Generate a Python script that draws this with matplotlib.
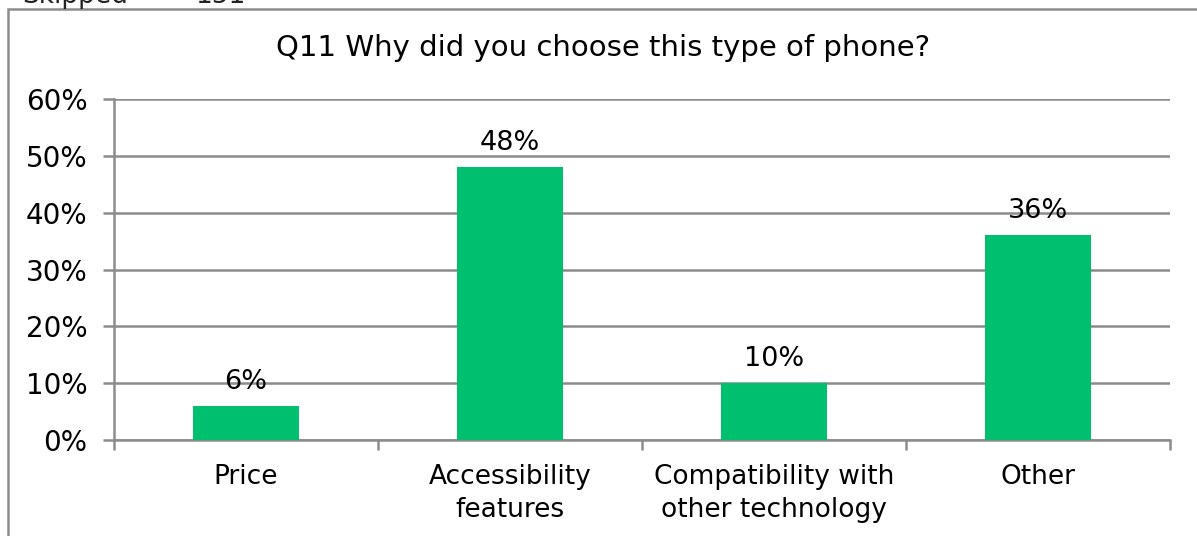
import numpy as np
import matplotlib
matplotlib.use("Agg")
import matplotlib.pyplot as plt
from matplotlib.patches import Rectangle

categories = ["Price", "Accessibility\nfeatures", "Compatibility with\nother technology", "Other"]
values = [6, 48, 10, 36]
yticks = [0, 10, 20, 30, 40, 50, 60]

green = "#00bf6f"
grey = "#8c8c8c"
plt.rcParams["font.family"] = "DejaVu Sans"

fig = plt.figure(figsize=(11.97, 5.36), dpi=100)

# outer frame of the chart box
fig.patches.append(Rectangle((8 / 1197, -0.1), 1.2, 1.1 - 9 / 536,
                             transform=fig.transFigure, fill=False,
                             edgecolor=grey, linewidth=1.8))
fig.text(22 / 1197, 1 - 3 / 536, "Skipped", fontsize=19, color="#222222", va="baseline")
fig.text(195 / 1197, 1 - 3 / 536, "151", fontsize=19, color="#222222", va="baseline")

ax = fig.add_axes([114 / 1197, 1 - 440 / 536, 1056 / 1197, 341 / 536])
x = np.arange(len(categories))
ax.bar(x, values, width=0.4, color=green, zorder=3)

for xi, v in zip(x, values):
    ax.annotate(f"{v}%", (xi, v), xytext=(0, 8), textcoords="offset points",
                ha="center", va="bottom", fontsize=19.5)

ax.set_xlim(-0.5, len(categories) - 0.5)
ax.set_ylim(0, 60)
ax.set_yticks(yticks)
ax.set_yticklabels([f"{t}%" for t in yticks], fontsize=20)
ax.set_xticks(x)
ax.set_xticklabels(categories, fontsize=19, linespacing=1.35)
ax.set_xticks(np.arange(-0.5, len(categories)), minor=True)
ax.tick_params(axis="x", which="major", length=0, pad=17)
ax.tick_params(axis="x", which="minor", length=7, width=1.8, color=grey)
ax.tick_params(axis="y", length=8, width=1.8, color=grey, pad=11)

ax.grid(axis="y", color=grey, linewidth=1.8, zorder=0)
for side in ["top", "right"]:
    ax.spines[side].set_visible(False)
for side in ["left", "bottom"]:
    ax.spines[side].set_color(grey)
    ax.spines[side].set_linewidth(1.8)

fig.text(603 / 1197, 1 - 48 / 536, "Q11 Why did you choose this type of phone?",
         ha="center", va="center", fontsize=21)

fig.savefig("out.png", dpi=100)
